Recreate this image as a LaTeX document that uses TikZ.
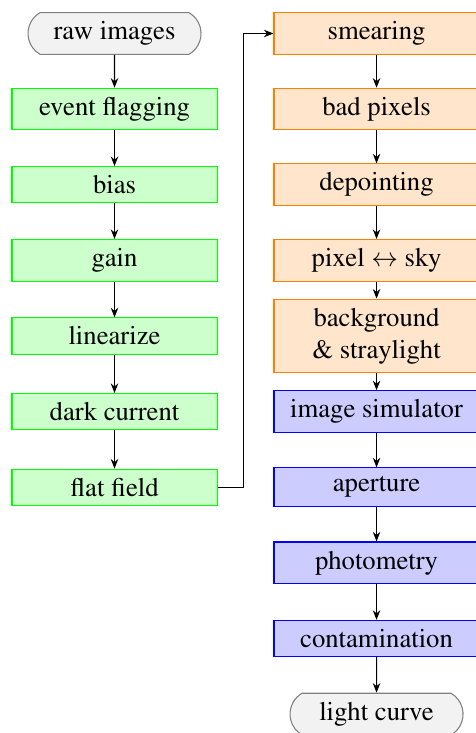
\documentclass[tikz,border=0pt]{standalone}
\usepackage[T1]{fontenc}
\usepackage{mathptmx}
\usetikzlibrary{shapes.misc,arrows.meta}
\begin{document}
\begin{tikzpicture}[
  box/.style={draw, rectangle, minimum width=2.7cm, align=center, font=\fontsize{10}{12}\selectfont},
  greenbox/.style={box, draw=green, fill=green!20},
  orangebox/.style={box, draw=orange, fill=orange!20},
  bluebox/.style={box, draw=blue, fill=blue!20},
  termbox/.style={draw=gray, fill=gray!10, rounded rectangle, rounded rectangle arc length=120, minimum width=71.5pt, minimum height=15.4pt, font=\fontsize{10}{12}\selectfont},
  link/.style={-{Stealth[length=3.6pt,width=2.8pt]}, black},
]
\useasboundingbox (0,0) rectangle (178.3pt,-274.6pt);
% left column
\node[termbox]  (raw)   at (42.9pt,-12.55pt)  {raw images};
\node[greenbox] (event) at (42.9pt,-40.88pt)  {event flagging};
\node[greenbox] (bias)  at (42.9pt,-69.21pt)  {bias};
\node[greenbox] (gain)  at (42.9pt,-97.54pt)  {gain};
\node[greenbox] (lin)   at (42.9pt,-125.87pt) {linearize};
\node[greenbox] (dark)  at (42.9pt,-154.20pt) {dark current};
\node[greenbox] (flat)  at (42.9pt,-182.53pt) {flat field};
% right column
\node[orangebox] (smear) at (141.06pt,-12.55pt)  {smearing};
\node[orangebox] (badpx) at (141.06pt,-40.88pt)  {bad pixels};
\node[orangebox] (depnt) at (141.06pt,-69.21pt)  {depointing};
\node[orangebox] (pxsky) at (141.06pt,-97.54pt)  {pixel $\leftrightarrow$ sky};
\node[orangebox] (bkg)   at (141.06pt,-125.87pt) {background\\ \& straylight};
\node[bluebox]   (imsim) at (141.06pt,-154.20pt) {image simulator};
\node[bluebox]   (apert) at (141.06pt,-182.53pt) {aperture};
\node[bluebox]   (phot)  at (141.06pt,-210.86pt) {photometry};
\node[bluebox]   (cont)  at (141.06pt,-239.19pt) {contamination};
\node[termbox]   (lc)    at (141.06pt,-267.52pt) {light curve};
\coordinate (turn) at (91.05pt,-12.55pt);
% connectors
\draw[link] (raw) -- (event);
\draw[link] (event) -- (bias);
\draw[link] (bias) -- (gain);
\draw[link] (gain) -- (lin);
\draw[link] (lin) -- (dark);
\draw[link] (dark) -- (flat);
\draw[link] (flat.east) -| (turn) -- (smear.west);
\draw[link] (smear) -- (badpx);
\draw[link] (badpx) -- (depnt);
\draw[link] (depnt) -- (pxsky);
\draw[link] (pxsky) -- (bkg);
\draw[link] (bkg) -- (imsim);
\draw[link] (imsim) -- (apert);
\draw[link] (apert) -- (phot);
\draw[link] (phot) -- (cont);
\draw[link] (cont) -- (lc);
\end{tikzpicture}
\end{document}
